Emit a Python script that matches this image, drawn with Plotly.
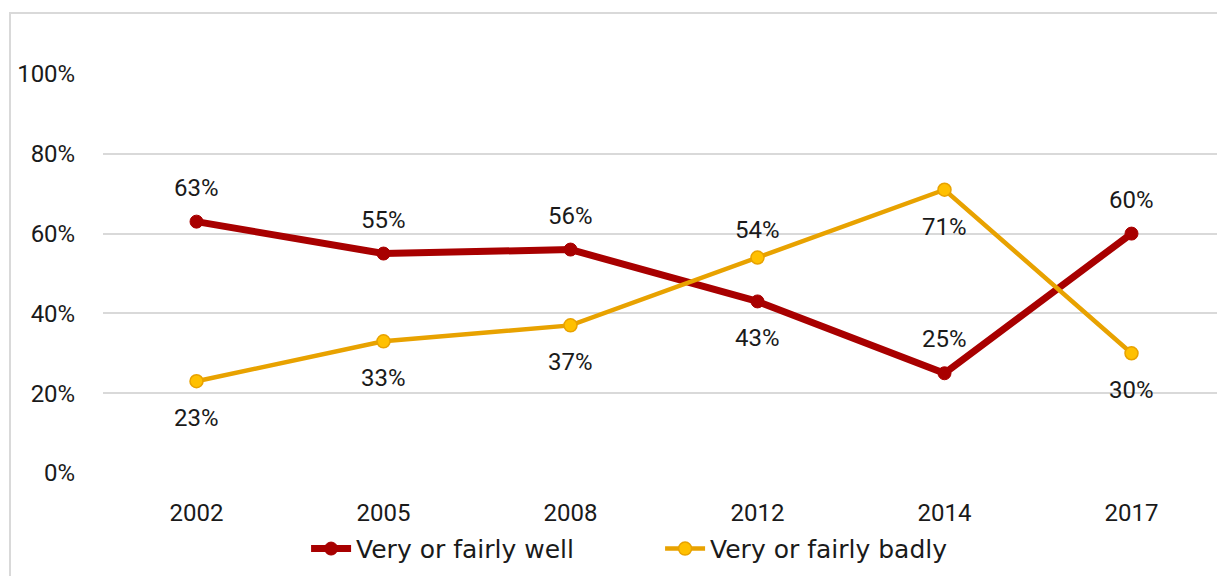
import plotly.graph_objects as go

years = ["2002", "2005", "2008", "2012", "2014", "2017"]
well = [63, 55, 56, 43, 25, 60]
badly = [23, 33, 37, 54, 71, 30]
well_label_pos = ["above", "above", "above", "below", "above", "above"]
badly_label_pos = ["below", "below", "below", "above", "below", "below"]
y_ticks = [0, 20, 40, 60, 80, 100]
y_tick_text = ["0%", "20%", "40%", "60%", "80%", "100%"]

FONT = "Roboto, Arial, sans-serif"
LEGEND_FONT = "DejaVu Sans, Roboto, sans-serif"
FS = 24
RED = "#A80000"
ORANGE = "#E8A200"
YELLOW = "#FFC000"

fig = go.Figure()
fig.add_trace(go.Scatter(
    x=years, y=well, name="Very or fairly well", mode="lines+markers",
    line=dict(color=RED, width=7), marker=dict(color=RED, size=13, line=dict(color=RED, width=1)),
    cliponaxis=False,
))
fig.add_trace(go.Scatter(
    x=years, y=badly, name="Very or fairly badly", mode="lines+markers",
    line=dict(color=ORANGE, width=4.5), marker=dict(color=YELLOW, size=13, line=dict(color=ORANGE, width=1.5)),
    cliponaxis=False,
))

annotations = []
for ys, pos in ((well, well_label_pos), (badly, badly_label_pos)):
    for i, (y, p) in enumerate(zip(ys, pos)):
        annotations.append(dict(
            x=i, y=y, xref="x", yref="y", text=f"{y}%", showarrow=False,
            yshift=(28 if i == 3 and p == "above" else 34) if p == "above" else -37,
            font=dict(family=FONT, size=FS, color="#1a1a1a"),
        ))

fig.update_layout(
    width=1217, height=568,
    margin=dict(l=95, r=0, t=66, b=103),
    paper_bgcolor="white", plot_bgcolor="white",
    font=dict(family=FONT, size=FS, color="#1a1a1a"),
    showlegend=True,
    legend=dict(orientation="h", x=0.181, xanchor="left", y=-0.19, yanchor="middle",
                font=dict(family=LEGEND_FONT, size=25, color="#1a1a1a"), itemwidth=40,
                entrywidth=299, entrywidthmode="pixels",
                bgcolor="rgba(0,0,0,0)"),
    annotations=annotations,
    shapes=[dict(type="rect", xref="paper", yref="paper", x0=-0.0829, x1=1.2, y0=-0.6, y1=1.153,
                 line=dict(color="#d9d9d9", width=2), fillcolor="rgba(0,0,0,0)", layer="below")],
)
fig.update_xaxes(type="category", range=[-0.5, 5.5], autorange=False,
                 showgrid=False, zeroline=False, showline=False,
                 ticks="outside", ticklen=18, tickcolor="rgba(0,0,0,0)",
                 tickfont=dict(family=FONT, size=FS, color="#1a1a1a"))
fig.update_yaxes(range=[0, 100], autorange=False, tickvals=y_ticks, ticktext=y_tick_text,
                 showgrid=True, gridcolor="#d9d9d9", gridwidth=2, zeroline=False, showline=False,
                 ticks="outside", ticklen=22, tickcolor="rgba(0,0,0,0)",
                 tickfont=dict(family=FONT, size=FS, color="#1a1a1a"))

fig.write_html("out.html")
